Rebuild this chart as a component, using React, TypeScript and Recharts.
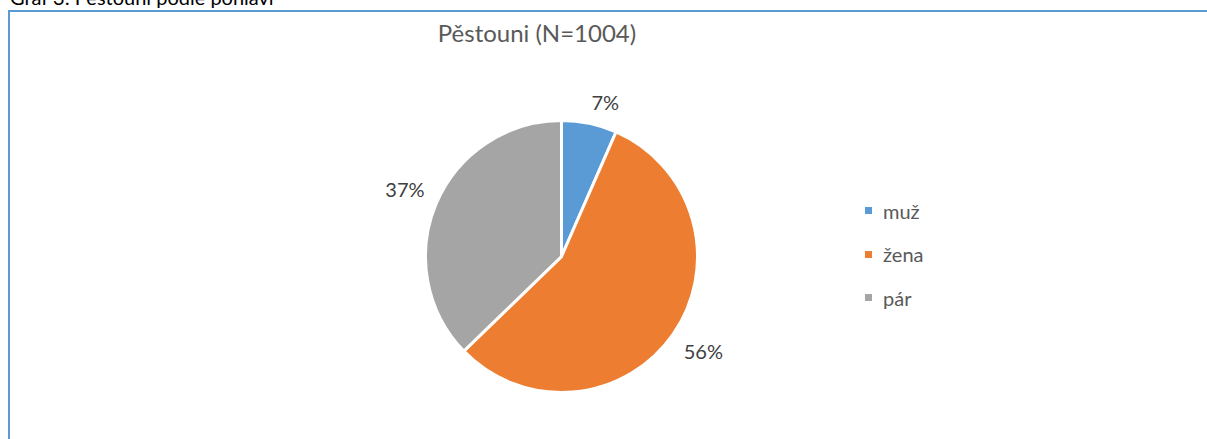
import { Legend, Pie, PieChart, Cell } from 'recharts'

const CATEGORIES = ['muž', 'žena', 'pár']
const COUNTS = [66, 564, 374]
const COLORS = ['#5B9BD5', '#ED7D31', '#A5A5A5']

const TITLE = 'Pěstouni (N=1004)'
const CAPTION = 'Graf 3: Pěstouni podle pohlaví'

const FONT = 'Lato, "Open Sans", sans-serif'
const RAD = Math.PI / 180

const data = CATEGORIES.map((name, i) => ({ name, value: COUNTS[i] }))

// Excel-like "best fit" label: nearest corner of the text box sits just outside the pie
function renderLabel(props: any) {
  const { cx, cy, midAngle, outerRadius, percent } = props
  const text = `${Math.round(percent * 100)}%`
  const cos = Math.cos(-midAngle * RAD)
  const sin = Math.sin(-midAngle * RAD)
  const halfW = (text.length * 13.5) / 2
  const halfH = 10
  const d = outerRadius + 12
  const x = cx + d * cos + Math.sign(cos) * halfW
  const y = cy + d * sin + Math.sign(sin) * halfH
  return (
    <text
      x={x}
      y={y}
      fill="#404040"
      fontSize={20}
      fontFamily={FONT}
      textAnchor="middle"
      dominantBaseline="central"
    >
      {text}
    </text>
  )
}

function renderLegend(props: any) {
  const items = [...(props.payload || [])].sort(
    (a: any, b: any) => CATEGORIES.indexOf(a.value) - CATEGORIES.indexOf(b.value)
  )
  return (
    <ul style={{ listStyle: 'none', margin: 0, padding: 0 }}>
      {items.map((entry: any) => (
        <li
          key={entry.value}
          style={{
            display: 'flex',
            alignItems: 'center',
            height: 43.5,
            fontFamily: FONT,
            fontSize: 20,
            color: '#595959',
          }}
        >
          <span
            style={{
              display: 'inline-block',
              width: 7,
              height: 7,
              background: entry.color,
              marginRight: 11,
            }}
          />
          {entry.value}
        </li>
      ))}
    </ul>
  )
}

export default function App() {
  return (
    <div
      style={{
        position: 'absolute',
        left: 0,
        top: 0,
        width: 1207,
        height: 439,
        overflow: 'hidden',
        background: '#fff',
      }}
    >
      <div
        style={{
          position: 'absolute',
          left: 10,
          top: -12,
          fontFamily: FONT,
          fontSize: 20,
          lineHeight: '18px',
          color: '#000',
          whiteSpace: 'nowrap',
        }}
      >
        {CAPTION}
      </div>
      <div
        style={{
          position: 'absolute',
          left: 8,
          top: 10,
          width: 1300,
          height: 600,
          border: '2px solid #5B9BD5',
          boxSizing: 'border-box',
        }}
      />
      <div
        style={{
          position: 'absolute',
          left: 537,
          top: 18,
          transform: 'translateX(-50%)',
          fontFamily: FONT,
          fontSize: 24,
          color: '#595959',
          whiteSpace: 'nowrap',
        }}
      >
        {TITLE}
      </div>
      <div style={{ position: 'absolute', left: 0, top: 0 }}>
        <PieChart
          width={1207}
          height={439}
          margin={{ top: 0, right: 0, bottom: 0, left: 0 }}
        >
          <Pie
            data={data}
            dataKey="value"
            nameKey="name"
            cx={561.5}
            cy={256.5}
            outerRadius={136}
            startAngle={90}
            endAngle={-270}
            stroke="#fff"
            strokeWidth={3}
            label={renderLabel}
            labelLine={false}
            isAnimationActive={false}
          >
            {data.map((entry, i) => (
              <Cell key={entry.name} fill={COLORS[i]} />
            ))}
          </Pie>
          <Legend
            layout="vertical"
            align="right"
            verticalAlign="top"
            content={renderLegend}
            wrapperStyle={{ left: 865, top: 189, width: 120 }}
          />
        </PieChart>
      </div>
    </div>
  )
}
